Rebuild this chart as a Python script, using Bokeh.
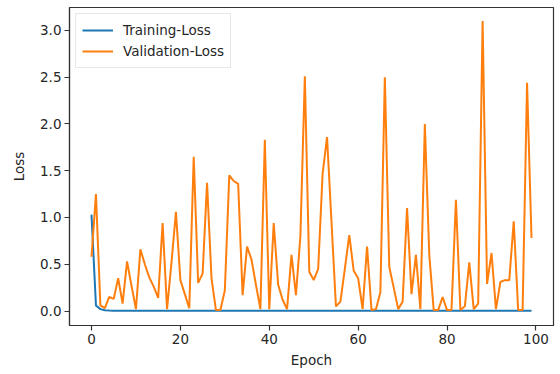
from bokeh.plotting import figure
from bokeh.models import Range1d, FixedTicker, Legend, LegendItem, NumeralTickFormatter
from bokeh.embed import file_html
from bokeh.resources import INLINE

epochs = list(range(100))

training_loss = [
    1.03, 0.06, 0.02, 0.008, 0.005, 0.004, 0.004, 0.003, 0.003, 0.003,
    0.003, 0.003, 0.003, 0.003, 0.003, 0.003, 0.003, 0.003, 0.003, 0.003,
    0.003, 0.003, 0.003, 0.003, 0.003, 0.003, 0.003, 0.003, 0.003, 0.003,
    0.003, 0.003, 0.003, 0.003, 0.003, 0.003, 0.003, 0.003, 0.003, 0.003,
    0.003, 0.003, 0.003, 0.003, 0.003, 0.003, 0.003, 0.003, 0.003, 0.003,
    0.003, 0.003, 0.003, 0.003, 0.003, 0.003, 0.003, 0.003, 0.003, 0.003,
    0.003, 0.003, 0.003, 0.003, 0.003, 0.003, 0.003, 0.003, 0.003, 0.003,
    0.003, 0.003, 0.003, 0.003, 0.003, 0.003, 0.003, 0.003, 0.003, 0.003,
    0.003, 0.003, 0.003, 0.003, 0.003, 0.003, 0.003, 0.003, 0.003, 0.003,
    0.003, 0.003, 0.003, 0.003, 0.003, 0.003, 0.003, 0.003, 0.003, 0.003,
]

validation_loss = [
    0.58, 1.25, 0.06, 0.03, 0.15, 0.13, 0.35, 0.08, 0.53, 0.27,
    0.02, 0.66, 0.50, 0.36, 0.26, 0.14, 0.94, 0.02, 0.52, 1.06,
    0.33, 0.18, 0.03, 1.65, 0.30, 0.40, 1.37, 0.35, 0.01, 0.01,
    0.22, 1.45, 1.39, 1.36, 0.17, 0.69, 0.55, 0.28, 0.02, 1.83,
    0.02, 0.94, 0.28, 0.12, 0.02, 0.60, 0.17, 0.80, 2.51, 0.42,
    0.33, 0.45, 1.47, 1.86, 0.95, 0.05, 0.10, 0.45, 0.81, 0.43,
    0.35, 0.02, 0.69, 0.01, 0.02, 0.20, 2.50, 0.47, 0.25, 0.02,
    0.10, 1.10, 0.18, 0.60, 0.02, 2.00, 0.60, 0.01, 0.01, 0.15,
    0.01, 0.01, 1.19, 0.01, 0.05, 0.52, 0.02, 0.08, 3.10, 0.29,
    0.62, 0.02, 0.31, 0.33, 0.33, 0.96, 0.01, 0.01, 2.44, 0.78,
]

x_ticks = [0, 20, 40, 60, 80, 100]
y_ticks = [0.0, 0.5, 1.0, 1.5, 2.0, 2.5, 3.0]

FONT = "DejaVu Sans"

p = figure(width=560, height=374, output_backend="svg", toolbar_location=None,
           x_range=Range1d(-4.95, 103.95), y_range=Range1d(-0.155, 3.245),
           min_border_left=69, min_border_right=7, min_border_top=7, min_border_bottom=49)

p.grid.visible = False
p.outline_line_color = "#333333"
p.outline_line_width = 1.2
p.background_fill_color = "white"
p.border_fill_color = "white"

r1 = p.line(epochs, training_loss, line_color="#1f77b4", line_width=2)
r2 = p.line(epochs, validation_loss, line_color="#ff7f0e", line_width=2)

for ax in (p.xaxis[0], p.yaxis[0]):
    ax.axis_line_color = "#333333"
    ax.axis_line_width = 1.2
    ax.major_tick_line_color = "#333333"
    ax.major_tick_line_width = 1.2
    ax.major_tick_out = 5
    ax.major_tick_in = 0
    ax.minor_tick_line_color = None
    ax.major_label_standoff = 3
    ax.major_label_text_font = FONT
    ax.major_label_text_font_size = "13.5px"
    ax.major_label_text_color = "#262626"
    ax.axis_label_text_font = FONT
    ax.axis_label_text_font_size = "13.5px"
    ax.axis_label_text_font_style = "normal"
    ax.axis_label_text_color = "#262626"

p.xaxis.ticker = FixedTicker(ticks=x_ticks)
p.yaxis.ticker = FixedTicker(ticks=y_ticks)
p.yaxis.formatter = NumeralTickFormatter(format="0.0")
p.xaxis.axis_label = "Epoch"
p.yaxis.axis_label = "Loss"
p.xaxis.axis_label_standoff = 5
p.yaxis.axis_label_standoff = 10

legend = Legend(items=[LegendItem(label="Training-Loss", renderers=[r1]),
                       LegendItem(label="Validation-Loss", renderers=[r2])],
                location="top_left")
legend.margin = 6
legend.padding = 6
legend.spacing = 1
legend.glyph_width = 31
legend.glyph_height = 20
legend.label_standoff = 10
legend.label_text_font = FONT
legend.label_text_font_size = "13.5px"
legend.label_text_color = "#262626"
legend.border_line_color = "#d0d0d0"
legend.border_line_width = 1
legend.background_fill_alpha = 0.8
p.add_layout(legend)

open("out.html", "w").write(file_html(p, INLINE))
